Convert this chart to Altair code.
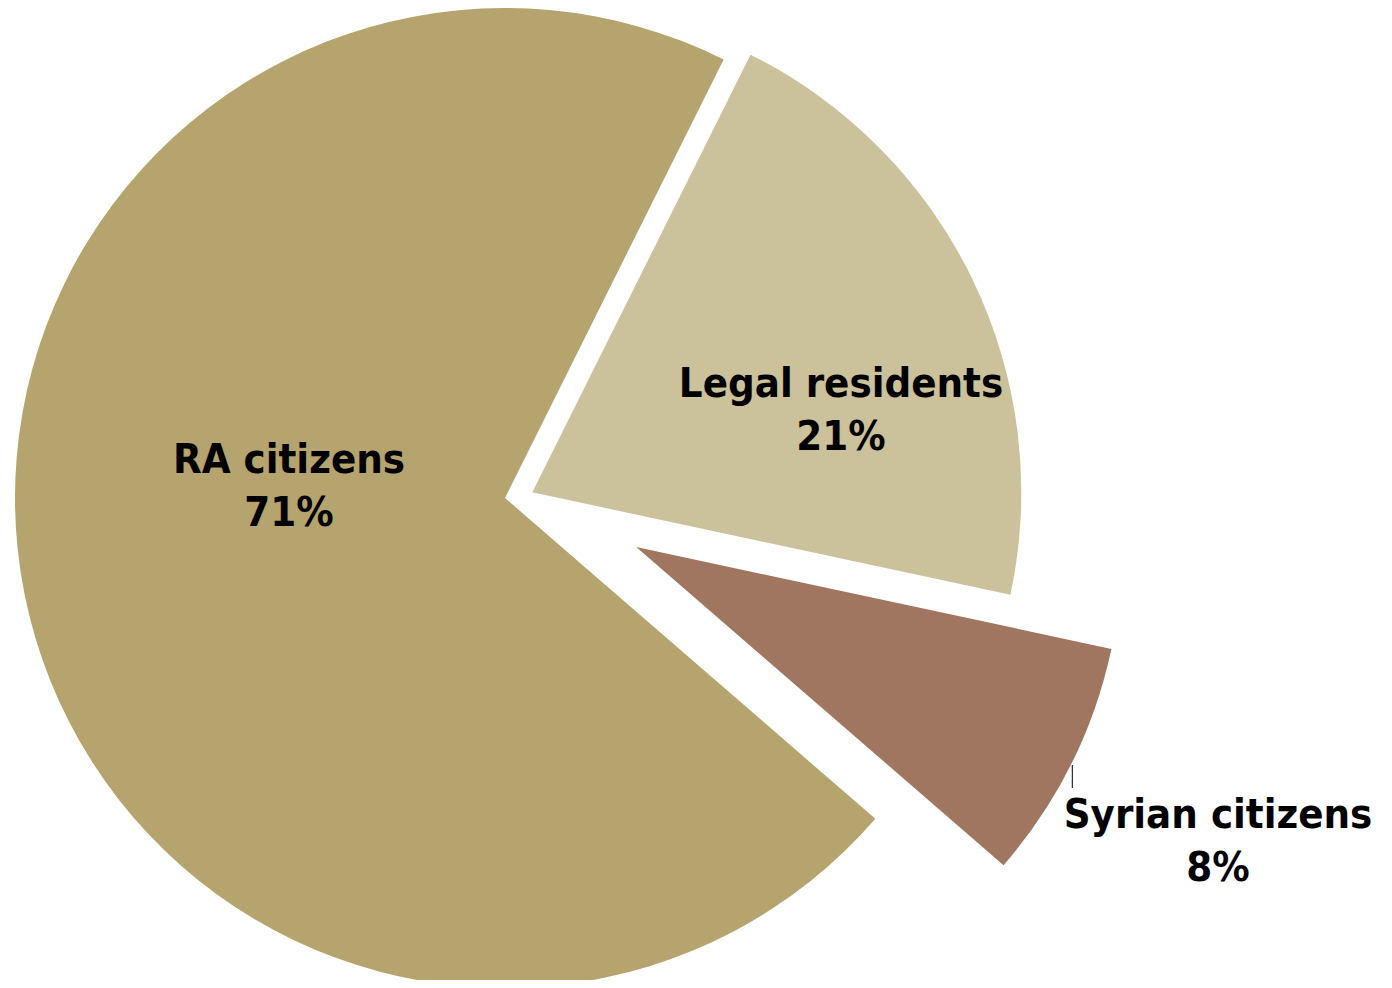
import math
import altair as alt
import pandas as pd

categories = ["Legal residents", "Syrian citizens", "RA citizens"]
shares = [21, 8, 71]
order = [0, 1, 2]
colors = ["#CBC29B", "#A07660", "#B5A46E"]

df = pd.DataFrame({"category": categories, "share": shares, "order": order})

start_angle = math.radians(26.5)
FONT = "DejaVu Sans Condensed, DejaVu Sans"

base = alt.Chart(df).transform_window(
    cum="sum(share)", sort=[alt.SortField("order")], frame=[None, 0]
).transform_calculate(
    start="datum.cum - datum.share",
    label="datum.category + '\\n' + datum.share + '%'",
)

theta_scale = alt.Scale(domain=[0, 100], range=[start_angle, start_angle + 2 * math.pi])
color_enc = alt.Color("category:N", scale=alt.Scale(domain=categories, range=colors), legend=None)

# slice centres (explosion), radii and label anchors, in plot coordinates
slice_pos = {
    "RA citizens": (497, 490),
    "Legal residents": (524.3, 484.3),
    "Syrian citizens": (628.2, 539.0),
}
slice_r = {"RA citizens": 490, "Legal residents": 489, "Syrian citizens": 486}
label_pos = {
    "RA citizens": (281, 465),
    "Legal residents": (833, 389),
    "Syrian citizens": (1210, 820),
}

layers = []
for cat in categories:
    cx, cy = slice_pos[cat]
    arc = base.transform_filter(alt.datum.category == cat).mark_arc(
        outerRadius=slice_r[cat], innerRadius=0
    ).encode(
        theta=alt.Theta("start:Q", scale=theta_scale),
        theta2="cum:Q",
        color=color_enc,
        x=alt.value(cx),
        y=alt.value(cy),
    )
    layers.append(arc)

for cat in categories:
    lx, ly = label_pos[cat]
    txt = base.transform_filter(alt.datum.category == cat).mark_text(
        font=FONT, fontSize=41.5, fontWeight="bold", color="black",
        align="center", baseline="alphabetic", lineBreak="\n", lineHeight=53,
    ).encode(
        text="label:N",
        x=alt.value(lx),
        y=alt.value(ly),
    )
    layers.append(txt)

tick = base.transform_filter(alt.datum.category == "Syrian citizens").mark_rule(
    color="black", strokeWidth=1
).encode(x=alt.value(1064.3), y=alt.value(757), y2=alt.value(780))
layers.append(tick)

chart = alt.layer(*layers).properties(
    width=1376, height=972, padding=0, autosize=alt.AutoSizeParams(type="none")
).configure_view(stroke=None)

chart.save("out.html", embed_options={"renderer": "svg", "actions": False})
